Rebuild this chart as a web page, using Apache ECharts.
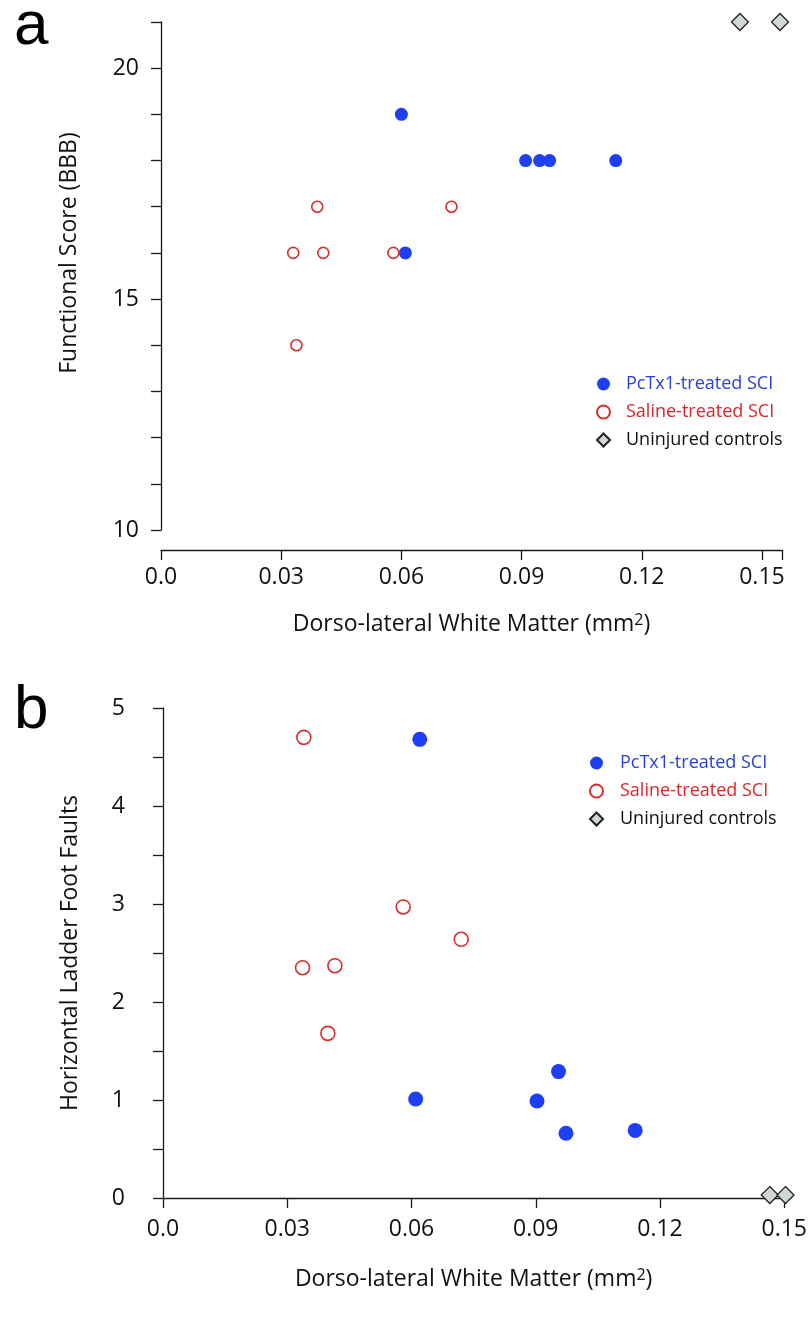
<!DOCTYPE html>
<html>
<head>
<meta charset="utf-8">
<script src="https://cdn.jsdelivr.net/npm/echarts@6/dist/echarts.min.js"></script>
<style>
  html, body { margin: 0; padding: 0; background: #fff; }
  #chart { width: 810px; height: 1320px; }
</style>
</head>
<body>
<div id="chart"></div>
<script>
// Panel a: BBB score vs dorso-lateral white matter
const bbbPcTx1 = [[0.060, 19], [0.091, 18], [0.0945, 18], [0.097, 18], [0.1135, 18], [0.061, 16]];
const bbbSaline = [[0.039, 17], [0.0725, 17], [0.033, 16], [0.0405, 16], [0.058, 16], [0.0338, 14]];
const bbbControl = [[0.1445, 21], [0.1545, 21]];

// Panel b: ladder foot faults vs dorso-lateral white matter
const faultsPcTx1 = [[0.062, 4.68], [0.061, 1.01], [0.0903, 0.99], [0.0955, 1.29], [0.0973, 0.66], [0.114, 0.69]];
const faultsSaline = [[0.034, 4.70], [0.058, 2.97], [0.072, 2.64], [0.0337, 2.35], [0.0415, 2.37], [0.0398, 1.68]];
const faultsControl = [[0.1465, 0.03], [0.1503, 0.03]];

const xTicksLabel = ['0.0', '0.03', '0.06', '0.09', '0.12', '0.15'];
const bbbLabels = [10, 15, 20];

const FONT = '"Open Sans", "DejaVu Sans", sans-serif';
const AXIS_COLOR = '#1a1a1a';
const BLUE = '#1f3ff5';
const RED = '#d92e2e';

const chartDom = document.getElementById('chart');
const myChart = echarts.init(chartDom);

function xLabel(v) {
    // só mostra os rótulos 0.0 ... 0.15 (o fim do eixo em 0.155 fica sem rótulo)
    const idx = Math.round(v / 0.03);
    if (Math.abs(v - idx * 0.03) > 1e-6) return '';
    return xTicksLabel[idx] || '';
}

const axisCommon = {
    axisLine: { show: true, onZero: false, lineStyle: { color: AXIS_COLOR, width: 1.3 } },
    axisTick: { show: true, inside: false, length: 10, lineStyle: { color: AXIS_COLOR, width: 1.3 } },
    splitLine: { show: false },
    axisLabel: { color: '#111', fontSize: 23, fontFamily: FONT, margin: 16 },
    nameTextStyle: { color: '#111', fontSize: 23, fontFamily: FONT },
    nameLocation: 'middle'
};

const nameRich = {
    color: '#111', fontSize: 23, fontFamily: FONT,
    rich: { sup: { fontSize: 16, fontFamily: FONT, color: '#111', verticalAlign: 'top', padding: [0, 0, 9, 0] } }
};

const legendCommon = {
    orient: 'vertical',
    itemWidth: 13,
    itemHeight: 13,
    selectedMode: false
};

function legendData(pad) {
    return [
        { name: 'PcTx1-treated SCI', textStyle: { color: '#2a40d8', fontSize: 18, fontFamily: FONT, padding: [0, 0, 0, pad] } },
        { name: 'Saline-treated SCI', textStyle: { color: '#d9262b', fontSize: 18, fontFamily: FONT, padding: [0, 0, 0, pad] } },
        { name: 'Uninjured controls', textStyle: { color: '#111', fontSize: 18, fontFamily: FONT, padding: [0, 0, 0, pad] } }
    ];
}

const pcStyle = { color: BLUE, opacity: 1 };
const salStyle = { color: '#fff', borderColor: RED, borderWidth: 1.6, opacity: 1 };
const ctrlStyle = { color: '#cfd8d4', borderColor: '#222', borderWidth: 1.3, opacity: 1 };

const option = {
    animation: false,
    graphic: [
        { type: 'text', left: 14, top: -4, style: { text: 'a', fontSize: 62, fontFamily: '"Liberation Sans", Arial, sans-serif', fill: '#000' } },
        { type: 'text', left: 14, top: 680, style: { text: 'b', fontSize: 62, fontFamily: '"Liberation Sans", Arial, sans-serif', fill: '#000' } }
    ],
    legend: [
        Object.assign({}, legendCommon, { left: 591, top: 370, itemGap: 10, data: legendData(11) }),
        Object.assign({}, legendCommon, { left: 584, top: 749, itemGap: 10, data: legendData(12) })
    ],
    grid: [
        { left: 161, top: 22, width: 621, height: 508 },
        { left: 163, top: 708, width: 622, height: 490 }
    ],
    xAxis: [
        Object.assign({}, axisCommon, {
            gridIndex: 0, type: 'value', min: 0, max: 0.155, interval: 0.03, offset: 20,
            axisLabel: Object.assign({}, axisCommon.axisLabel, { formatter: xLabel, margin: 16 }),
            name: 'Dorso-lateral White Matter (mm{sup|2})', nameGap: 62, nameTextStyle: nameRich
        }),
        Object.assign({}, axisCommon, {
            gridIndex: 1, type: 'value', min: 0, max: 0.15, interval: 0.03,
            axisLabel: Object.assign({}, axisCommon.axisLabel, { formatter: xLabel, margin: 20 }),
            name: 'Dorso-lateral White Matter (mm{sup|2})', nameGap: 69, nameTextStyle: nameRich
        })
    ],
    yAxis: [
        Object.assign({}, axisCommon, {
            gridIndex: 0, type: 'value', min: 10, max: 21, interval: 1,
            axisLabel: Object.assign({}, axisCommon.axisLabel, {
                margin: 22,
                formatter: v => (bbbLabels.indexOf(v) >= 0 ? String(v) : '')
            }),
            name: 'Functional Score (BBB)', nameGap: 80,
            nameTextStyle: Object.assign({}, axisCommon.nameTextStyle, { padding: [0, 0, 0, 46] })
        }),
        Object.assign({}, axisCommon, {
            gridIndex: 1, type: 'value', min: 0, max: 5, interval: 0.5,
            axisLabel: Object.assign({}, axisCommon.axisLabel, {
                margin: 38,
                formatter: v => (Math.abs(v - Math.round(v)) < 1e-6 ? String(Math.round(v)) : '')
            }),
            name: 'Horizontal Ladder Foot Faults', nameGap: 81
        })
    ],
    series: [
        { name: 'PcTx1-treated SCI', type: 'scatter', xAxisIndex: 0, yAxisIndex: 0, symbol: 'circle', symbolSize: 13, itemStyle: pcStyle, data: bbbPcTx1, clip: false },
        { name: 'Saline-treated SCI', type: 'scatter', xAxisIndex: 0, yAxisIndex: 0, symbol: 'circle', symbolSize: 11, itemStyle: salStyle, data: bbbSaline, clip: false },
        { name: 'Uninjured controls', type: 'scatter', xAxisIndex: 0, yAxisIndex: 0, symbol: 'diamond', symbolSize: 17, itemStyle: ctrlStyle, data: bbbControl, clip: false },
        { name: 'PcTx1-treated SCI', type: 'scatter', xAxisIndex: 1, yAxisIndex: 1, symbol: 'circle', symbolSize: 15, itemStyle: pcStyle, data: faultsPcTx1, clip: false },
        { name: 'Saline-treated SCI', type: 'scatter', xAxisIndex: 1, yAxisIndex: 1, symbol: 'circle', symbolSize: 14, itemStyle: salStyle, data: faultsSaline, clip: false },
        { name: 'Uninjured controls', type: 'scatter', xAxisIndex: 1, yAxisIndex: 1, symbol: 'diamond', symbolSize: 17, itemStyle: ctrlStyle, data: faultsControl, clip: false }
    ]
};

myChart.setOption(option);
</script>
</body>
</html>
